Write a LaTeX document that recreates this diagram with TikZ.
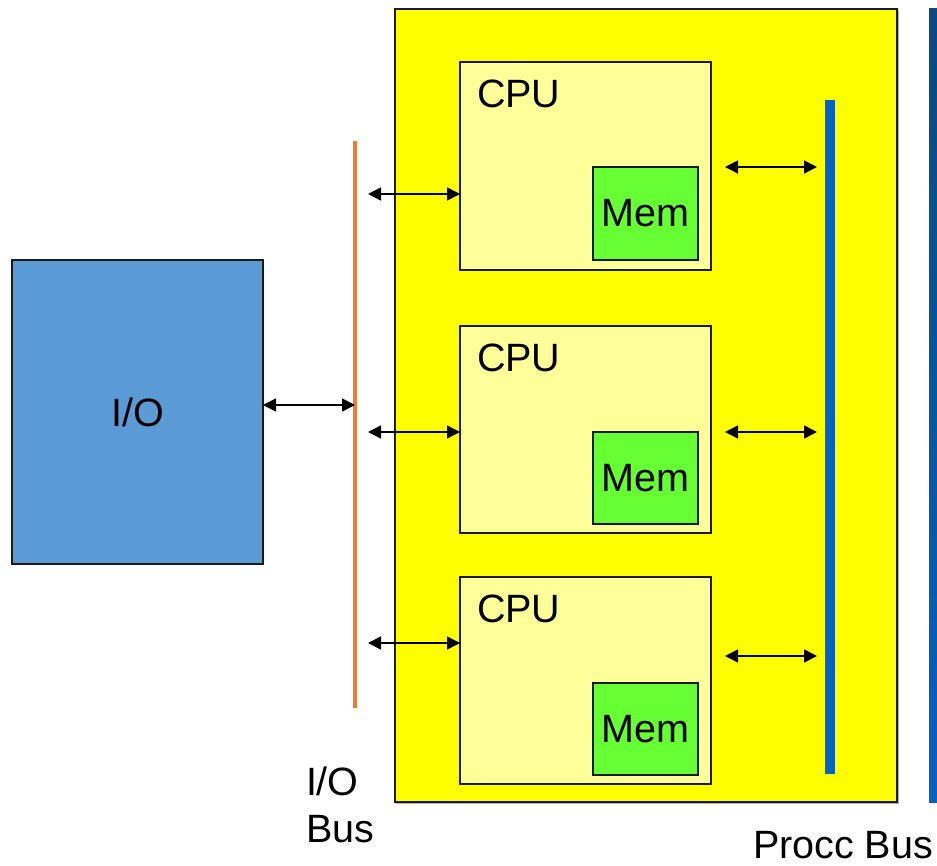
\documentclass[tikz,border=0pt]{standalone}
\usepackage{fontspec}
\setmainfont{Liberation Sans}
\usetikzlibrary{arrows.meta}
\definecolor{ioblue}{HTML}{5B9BD5}
\definecolor{busorange}{HTML}{ED7D31}
\definecolor{busblue}{HTML}{0563C1}
\definecolor{bustop}{HTML}{0B4A7A}
\definecolor{boardyellow}{HTML}{FFFF00}
\definecolor{cpuyellow}{HTML}{FFFF99}
\definecolor{memgreen}{HTML}{66FF33}
\definecolor{edge}{HTML}{1A1A1A}
\begin{document}
\begin{tikzpicture}[x=1pt,y=-1pt,
  box/.style={draw=edge,line width=1.5pt,inner sep=0pt,outer sep=0pt,anchor=north west},
  lbl/.style={inner sep=0pt,outer sep=0pt,font=\fontsize{39.5}{47}\selectfont},
  bar/.style={inner sep=0pt,outer sep=0pt,anchor=north west,draw=none},
  biarrow/.style={line width=1.5pt,{Triangle[length=13pt,width=13pt]}-{Triangle[length=13pt,width=13pt]}}]
\useasboundingbox (0,0) rectangle (937,866);
% outer gradient bus
\node[bar,minimum width=8pt,minimum height=793pt,top color=bustop,bottom color=busblue] (outerbus) at (929,9) {};
% yellow box with faint shadow
\draw[gray!60,line width=1pt] (898.5,10) -- (898.5,803.5) -- (396,803.5);
\node[box,fill=boardyellow,minimum width=502pt,minimum height=793pt] (board) at (395,9) {};
% I/O box
\node[box,fill=ioblue,minimum width=251pt,minimum height=304pt] (io) at (12,260) {};
\node[lbl] (iolbl) at (io.center) {I/O};
% buses
\node[bar,fill=busorange,minimum width=4pt,minimum height=567pt] (iobus) at (353,141) {};
\node[bar,fill=busblue,minimum width=10pt,minimum height=674pt] (procbus) at (825,100) {};
% CPUs
\node[box,fill=cpuyellow,minimum width=251pt,minimum height=208pt] (cpu1) at (460,62) {};
\node[box,fill=cpuyellow,minimum width=251pt,minimum height=207pt] (cpu2) at (460,326) {};
\node[box,fill=cpuyellow,minimum width=251pt,minimum height=207pt] (cpu3) at (460,577) {};
\node[lbl,anchor=base west] (cpu1lbl) at (477,108) {CPU};
\node[lbl,anchor=base west] (cpu2lbl) at (477,372) {CPU};
\node[lbl,anchor=base west] (cpu3lbl) at (477,622) {CPU};
% Mems
\node[box,fill=memgreen,minimum width=105pt,minimum height=93pt] (mem1) at (593,167) {};
\node[box,fill=memgreen,minimum width=105pt,minimum height=92pt] (mem2) at (593,432) {};
\node[box,fill=memgreen,minimum width=105pt,minimum height=92pt] (mem3) at (593,683) {};
\node[lbl] (mem1lbl) at (mem1.center) {Mem};
\node[lbl] (mem2lbl) at (mem2.center) {Mem};
\node[lbl] (mem3lbl) at (mem3.center) {Mem};
% arrow ends
\coordinate (ioa) at (263,405);
\coordinate (l1) at (368,194);
\coordinate (l2) at (368,432);
\coordinate (l3) at (368,643);
\coordinate (r1) at (725,167);
\coordinate (r2) at (725,432);
\coordinate (r3) at (725,656);
\draw[biarrow] (ioa) -- (ioa -| iobus.center);
\draw[biarrow] (l1) -- (l1 -| cpu1.west);
\draw[biarrow] (l2) -- (l2 -| cpu2.west);
\draw[biarrow] (l3) -- (l3 -| cpu3.west);
\draw[biarrow] (r1) -- ([xshift=-8pt]r1 -| procbus.west);
\draw[biarrow] (r2) -- ([xshift=-8pt]r2 -| procbus.west);
\draw[biarrow] (r3) -- ([xshift=-8pt]r3 -| procbus.west);
% labels
\node[lbl,anchor=base west,align=left] (iobuslbl) at (306,842) {I/O\\Bus};
\node[lbl,anchor=base east] (procbuslbl) at (933,858) {Procc Bus};
\end{tikzpicture}
\end{document}
